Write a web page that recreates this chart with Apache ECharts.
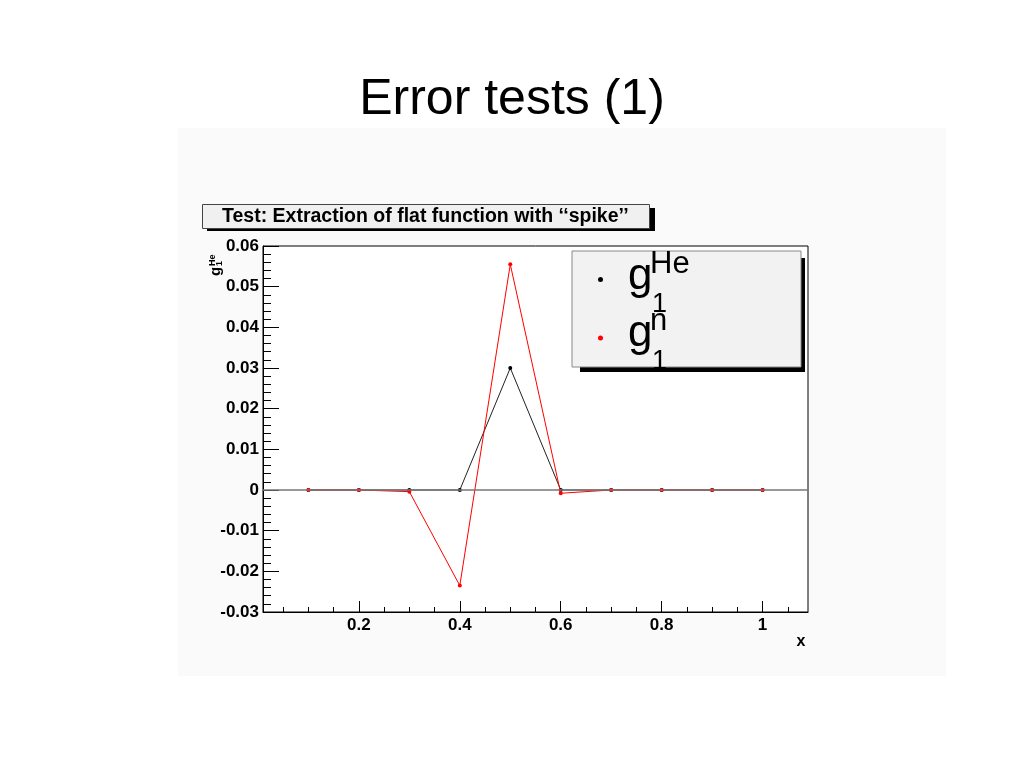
<!DOCTYPE html>
<html>
<head>
<meta charset="utf-8">
<script src="https://cdn.jsdelivr.net/npm/echarts@6/dist/echarts.min.js"></script>
<style>
html,body{margin:0;padding:0;background:#fff;}
#chart{width:1024px;height:768px;}
</style>
</head>
<body>
<div id="chart"></div>
<script>
// ---- data ----
const xValues = [0.1, 0.2, 0.3, 0.4, 0.5, 0.6, 0.7, 0.8, 0.9, 1.0];
const g1He = [0, 0, 0, 0, 0.030, 0, 0, 0, 0, 0];
const g1n  = [0, 0, -0.0004, -0.0235, 0.0555, -0.0008, 0, 0, 0, 0];
const xTickValues = [0.2, 0.4, 0.6, 0.8, 1.0];
const xMinorTickValues = [0.05, 0.1, 0.15, 0.25, 0.3, 0.35, 0.45, 0.5, 0.55, 0.65, 0.7, 0.75, 0.85, 0.9, 0.95, 1.05];
const yMinorTickValues = [-0.028, -0.026, -0.024, -0.022, -0.018, -0.016, -0.014, -0.012,
  -0.008, -0.006, -0.004, -0.002, 0.002, 0.004, 0.006, 0.008, 0.012, 0.014, 0.016, 0.018,
  0.022, 0.024, 0.026, 0.028, 0.032, 0.034, 0.036, 0.038, 0.042, 0.044, 0.046, 0.048,
  0.052, 0.054, 0.056, 0.058];
const seriesNames = ['g1He', 'g1n'];
const pageTitle = 'Error tests (1)';
const plotTitle = 'Test: Extraction of flat function with \u2018\u2018spike\u2019\u2019';

const FONT = "'Liberation Sans', Arial, Helvetica, sans-serif";
const chart = echarts.init(document.getElementById('chart'), null, {renderer: 'canvas'});

function txt(text, x, y, size, opts) {
  opts = opts || {};
  return {
    type: 'text', x: x, y: y, rotation: opts.rotation || 0, z: 50, silent: true,
    style: {
      text: text, fontSize: size, fontFamily: FONT, fontWeight: opts.bold ? 'bold' : 'normal',
      fill: '#000', align: 'left', verticalAlign: 'bottom'
    }
  };
}

const option = {
  animation: false,
  backgroundColor: '#ffffff',
  title: [
    {
      text: pageTitle, left: 'center', top: 70,
      textStyle: {fontFamily: FONT, fontSize: 50, fontWeight: 'normal', color: '#000', lineHeight: 50}
    },
    {
      text: plotTitle, left: 202, top: 204,
      padding: [3, 21, 2, 20],
      backgroundColor: '#f0f0f0', borderColor: '#444', borderWidth: 1,
      textStyle: {fontFamily: FONT, fontSize: 19.5, fontWeight: 'bold', color: '#000', lineHeight: 20}
    }
  ],
  legend: {
    data: seriesNames, orient: 'vertical', left: 598, top: 277, padding: 0,
    icon: 'circle', itemWidth: 5, itemHeight: 5, itemGap: 53.6,
    selectedMode: false, formatter: function () { return ''; },
    textStyle: {fontSize: 5, lineHeight: 5}, z: 60
  },
  grid: {
    left: 263, right: 216, top: 246, bottom: 156,
    show: true, backgroundColor: '#ffffff', borderColor: '#000', borderWidth: 1
  },
  xAxis: [
    {
      type: 'value', min: 0.01, max: 1.09,
      name: 'x', nameLocation: 'end', nameGap: -7,
      nameTextStyle: {fontFamily: FONT, fontSize: 16, fontWeight: 'bold', color: '#000', align: 'center', verticalAlign: 'top', padding: [22, 0, 0, 0]},
      axisLine: {show: true, onZero: false, lineStyle: {color: '#000', width: 1}},
      axisTick: {show: true, inside: true, length: 11, customValues: xTickValues, lineStyle: {color: '#000'}},
      axisLabel: {show: true, customValues: xTickValues, margin: 5, fontFamily: FONT, fontSize: 17, fontWeight: 'bold', color: '#000'},
      splitLine: {show: false}
    },
    {
      type: 'value', min: 0.01, max: 1.09, position: 'bottom',
      axisLine: {show: false, onZero: false},
      axisTick: {show: true, inside: true, length: 5, customValues: xMinorTickValues, lineStyle: {color: '#000'}},
      axisLabel: {show: false},
      splitLine: {show: false}
    }
  ],
  yAxis: [
    {
      type: 'value', min: -0.03, max: 0.06, interval: 0.01,
      axisLine: {show: true, onZero: false, lineStyle: {color: '#000', width: 1}},
      axisTick: {show: true, inside: true, length: 16, lineStyle: {color: '#000'}},
      axisLabel: {margin: 4, fontFamily: FONT, fontSize: 17, fontWeight: 'bold', color: '#000'},
      splitLine: {show: false}
    },
    {
      type: 'value', min: -0.03, max: 0.06, position: 'left',
      axisLine: {show: false, onZero: false},
      axisTick: {show: true, inside: true, length: 8, customValues: yMinorTickValues, lineStyle: {color: '#000'}},
      axisLabel: {show: false},
      splitLine: {show: false}
    }
  ],
  graphic: [
    // canvas panel
    {type: 'rect', z: -100, silent: true, shape: {x: 178, y: 128, width: 768, height: 548}, style: {fill: '#fafafa'}},
    // title box shadow
    {type: 'rect', z: -1, silent: true, shape: {x: 207, y: 208, width: 448, height: 23}, style: {fill: '#000'}},
    // legend box with shadow
    {type: 'rect', z: 40, silent: true, shape: {x: 580, y: 258, width: 225, height: 114}, style: {fill: '#000'}},
    {type: 'rect', z: 41, silent: true, shape: {x: 572, y: 251, width: 229, height: 116}, style: {fill: '#f2f2f2', stroke: '#888', lineWidth: 1}},
    // legend labels g_1^He and g_1^n
    txt('g', 628, 299, 44),
    txt('He', 650, 280, 31),
    txt('1', 652, 318, 27),
    txt('g', 628, 356, 44),
    txt('n', 650, 337, 31),
    txt('1', 652, 375, 27),
    // y axis title g_1^He (rotated)
    txt('g', 223, 276, 15, {bold: true, rotation: Math.PI / 2}),
    txt('He', 217, 266, 9, {bold: true, rotation: Math.PI / 2}),
    txt('1', 224, 266, 9, {bold: true, rotation: Math.PI / 2})
  ],
  series: [
    {
      name: seriesNames[0], type: 'line', xAxisIndex: 0, yAxisIndex: 0,
      data: xValues.map(function (x, i) { return [x, g1He[i]]; }),
      symbol: 'circle', symbolSize: 4, showSymbol: true,
      lineStyle: {color: '#222', width: 1},
      itemStyle: {color: '#000'},
      markLine: {
        silent: true, symbol: 'none', label: {show: false},
        lineStyle: {color: '#777', width: 1.5, type: 'solid'},
        data: [{yAxis: 0}]
      },
      z: 3
    },
    {
      name: seriesNames[1], type: 'line', xAxisIndex: 0, yAxisIndex: 0,
      data: xValues.map(function (x, i) { return [x, g1n[i]]; }),
      symbol: 'circle', symbolSize: 4, showSymbol: true,
      lineStyle: {color: '#ff0000', width: 1},
      itemStyle: {color: '#ff0000'},
      z: 4
    }
  ]
};
chart.setOption(option);
</script>
</body>
</html>
